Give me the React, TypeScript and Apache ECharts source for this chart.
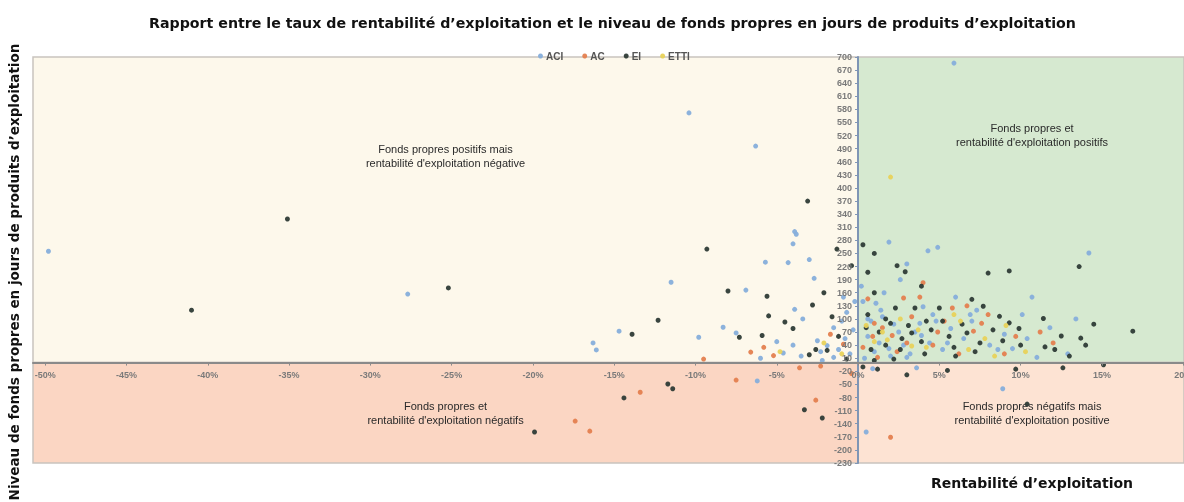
import React, { useEffect, useRef } from "react";
import * as echarts from "echarts";

const seriesNames = ["ACI", "AC", "EI", "ETTI"];
const seriesColors = ["#86aedb", "#e4804f", "#2e3b36", "#e8d25a"];

const aciPoints = [
  [-49.8, 255], [-27.7, 157], [-10.4, 572], [-6.3, 496], [-11.5, 184], [-14.7, 72], [-16.3, 45], [-16.1, 29],
  [-6.9, 166], [-5.7, 230], [-4.3, 229], [-3.9, 300], [-3.8, 294], [-4.0, 272], [-3.0, 236], [-2.7, 193],
  [-3.9, 122], [-3.4, 100], [-7.5, 68], [-8.3, 81], [-9.8, 58], [-5.0, 48], [-2.5, 50], [-1.9, 39],
  [-1.2, 30], [-0.8, 55], [-0.5, 20], [-1.5, 12], [-2.2, 5], [-3.5, 15], [-6.0, 10], [-4.6, 22],
  [0.3, 140], [1.9, 276], [4.9, 264], [4.3, 256], [3.0, 226], [1.1, 136], [5.9, 686], [14.2, 251],
  [10.7, 150], [0.8, 95], [1.5, 105], [2.2, 88], [3.5, 70], [4.6, 110], [0.6, 60], [1.3, 45],
  [2.8, 40], [3.8, 90], [5.7, 78], [6.5, 55], [7.3, 120], [8.1, 40], [9.5, 32], [11.8, 80],
  [12.9, 20], [2.0, 15], [0.4, 10], [1.0, 25], [3.2, 20], [4.0, 128], [6.0, 150], [8.9, -60],
  [0.5, -159], [-6.2, -42], [0.9, -14], [3.6, -12], [1.6, 160], [0.2, 175], [2.6, 190], [4.4, 45],
  [5.2, 30], [7.0, 95], [9.0, 65], [10.1, 110], [13.4, 100], [-0.3, 75], [-1.0, 95], [-0.7, 115],
  [-0.2, 140], [0.6, 100], [1.4, 120], [2.5, 70], [3.9, 62], [4.8, 95], [5.5, 45], [6.9, 110],
  [8.6, 30], [10.4, 55], [11.0, 12], [1.9, 32], [3.0, 12], [-1.5, 80], [-2.3, 25], [-4.0, 40],
  [-0.9, 150]
];

const acPoints = [
  [-17.4, -134], [-16.5, -157], [-13.4, -68], [-7.5, -40], [-2.6, -86], [2.0, -171], [-6.6, 24], [-5.8, 35],
  [-3.6, -12], [-2.3, -8], [-0.4, -25], [4.0, 183], [2.8, 148], [0.6, 146], [1.5, 80], [0.9, 60],
  [3.3, 105], [5.3, 95], [7.1, 72], [9.7, 60], [11.2, 70], [4.6, 40], [2.4, 25], [1.2, 12],
  [8.0, 110], [0.3, 35], [-0.9, 42], [-1.7, 65], [-5.2, 16], [-9.5, 8], [6.2, 20], [12.0, 45],
  [6.7, 130], [3.8, 150], [1.0, 90], [2.1, 62], [4.9, 70], [5.8, 125], [7.6, 90], [9.0, 20],
  [3.0, 45]
];

const eiPoints = [
  [-41.0, 120], [-35.1, 329], [-25.2, 171], [-9.3, 260], [-3.1, 370], [-12.3, 97], [-13.9, 65], [-5.5, 107],
  [-4.5, 93], [-5.6, 152], [-8.0, 164], [-2.8, 132], [-4.0, 78], [-5.9, 62], [-7.3, 58], [-1.3, 260],
  [-0.4, 222], [-2.1, 160], [-1.2, 60], [-1.9, 28], [-3.0, 18], [-0.7, 8], [0.3, 270], [1.0, 250],
  [0.6, 207], [2.4, 222], [2.9, 208], [3.9, 175], [1.0, 160], [3.5, 125], [5.0, 125], [5.2, 95],
  [0.6, 110], [2.0, 90], [1.3, 70], [2.7, 55], [3.9, 48], [4.5, 75], [5.6, 60], [6.4, 88],
  [7.5, 45], [8.3, 75], [9.3, 91], [11.4, 101], [12.5, 61], [13.7, 56], [14.5, 88], [16.9, 72],
  [11.5, 36], [9.3, 210], [8.0, 205], [13.6, 220], [7.0, 145], [8.7, 106], [7.7, 129], [10.0, 40],
  [2.2, 8], [4.1, 20], [6.0, 15], [0.8, 30], [1.7, 40], [3.1, 85], [-19.9, -159], [-14.4, -81],
  [-11.7, -49], [-11.4, -60], [-3.3, -108], [-2.2, -127], [10.4, -95], [0.3, -10], [1.2, -15], [3.0, -28],
  [5.5, -18], [9.7, -15], [12.6, -12], [15.1, -5], [0.5, 80], [1.7, 100], [2.3, 125], [3.3, 68],
  [4.2, 95], [5.9, 35], [6.7, 68], [7.2, 25], [8.9, 50], [9.9, 78], [12.1, 30], [13.0, 15],
  [14.0, 40], [1.0, 5], [2.6, 30], [-2.6, 30], [-1.6, 105]
];

const ettiPoints = [
  [2.0, 425], [-4.8, 25], [-2.1, 45], [1.8, 52], [2.6, 100], [3.3, 38], [5.9, 110], [7.8, 55],
  [4.2, 35], [1.0, 48], [6.8, 30], [10.3, 25], [9.1, 85], [0.5, 85], [-1.0, 20], [1.5, 70],
  [3.7, 75], [6.3, 95], [8.4, 15]
];

const xMin = -50.75;
const xMax = 20.05;
const yMin = -230;
const yMax = 700;
const yStep = 30;

const quadrantTexts = [
  "Fonds propres positifs mais\nrentabilité d'exploitation négative",
  "Fonds propres et\nrentabilité d'exploitation positifs",
  "Fonds propres et\nrentabilité d'exploitation négatifs",
  "Fonds propres négatifs mais\nrentabilité d'exploitation positive"
];

const titleText =
  "Rapport entre le taux de rentabilité d’exploitation et le niveau de fonds propres en jours de produits d’exploitation";
const yTitle = "Niveau de fonds propres en jours de produits d’exploitation";
const xTitle = "Rentabilité d’exploitation";

const W = 1184;
const H = 502;
const gridLeft = 33;
const gridRight = 0;
const gridTop = 57;
const gridBottom = 39;

export default function App() {
  const ref = useRef<HTMLDivElement>(null);
  useEffect(() => {
    const chart = echarts.init(ref.current!, null, { renderer: "svg" });
    const allPoints = [aciPoints, acPoints, eiPoints, ettiPoints];
    const gridW = W - gridLeft - gridRight;
    const gridH = H - gridTop - gridBottom;
    // place the axes on the zero of the other axis
    const xAxisOffset = -((0 - yMin) / (yMax - yMin)) * gridH;
    const yAxisOffset = -((0 - xMin) / (xMax - xMin)) * gridW;
    const quadLabel = (text: string, pos: string, dist: number, dx: number) => ({
      show: true,
      formatter: text,
      position: pos,
      distance: dist,
      offset: [dx, 0],
      color: "#2a2a2a",
      fontSize: 11,
      lineHeight: 14,
      fontFamily: "Liberation Sans, Arial, sans-serif",
      align: "center"
    });
    const border = { borderColor: "#c9c4bf", borderWidth: 1.5 };
    chart.setOption({
      animation: false,
      title: {
        text: titleText,
        left: 144,
        top: 11,
        textStyle: { fontSize: 14.2, fontWeight: "bold", fontFamily: "DejaVu Sans, sans-serif", color: "#111" }
      },
      legend: {
        data: seriesNames,
        top: 46,
        left: 533,
        icon: "circle",
        itemWidth: 5,
        itemHeight: 5,
        itemGap: 19,
        textStyle: { fontSize: 10, fontWeight: "bold", color: "#555", fontFamily: "Liberation Sans, Arial, sans-serif", padding: [0, 0, 0, -2] }
      },
      grid: { left: gridLeft, right: gridRight, top: gridTop, bottom: gridBottom, containLabel: false, outerBoundsMode: "none" },
      xAxis: {
        type: "value",
        min: xMin,
        max: xMax,
        splitNumber: 14,
        position: "bottom",
        offset: xAxisOffset,
        z: 5,
        splitLine: { show: false },
        axisLine: { onZero: false, lineStyle: { color: "#8a8a8a", width: 2 } },
        axisTick: { show: true, length: 3, lineStyle: { color: "#8a8a8a" } },
        axisLabel: {
          showMinLabel: false,
          showMaxLabel: false,
          formatter: (v: number) => `${v}%`,
          color: "#7a7a7a",
          fontSize: 9,
          fontWeight: "bold",
          fontFamily: "Liberation Sans, Arial, sans-serif",
          margin: 8
        }
      },
      yAxis: {
        type: "value",
        min: yMin,
        max: yMax,
        interval: yStep,
        position: "left",
        offset: yAxisOffset,
        z: 5,
        splitLine: { show: false },
        axisLine: { onZero: false, lineStyle: { color: "#7f95b5", width: 2 } },
        axisTick: { show: true, length: 3, lineStyle: { color: "#7f95b5" } },
        axisLabel: {
          color: "#7a7a7a",
          fontSize: 9,
          fontWeight: "bold",
          fontFamily: "Liberation Sans, Arial, sans-serif",
          margin: 6
        }
      },
      graphic: [
        {
          type: "text",
          x: 14,
          y: 272,
          rotation: Math.PI / 2,
          style: {
            text: yTitle,
            fontSize: 13.5,
            fontWeight: "bold",
            fontFamily: "DejaVu Sans, sans-serif",
            fill: "#111",
            align: "center",
            verticalAlign: "middle"
          }
        },
        {
          type: "text",
          x: 1032,
          y: 483,
          style: {
            text: xTitle,
            fontSize: 14,
            fontWeight: "bold",
            fontFamily: "DejaVu Sans, sans-serif",
            fill: "#111",
            align: "center",
            verticalAlign: "middle"
          }
        }
      ],
      series: [
        {
          name: "bg",
          type: "scatter",
          data: [],
          silent: true,
          markArea: {
            silent: true,
            data: [
              [
                { xAxis: xMin, yAxis: yMax, itemStyle: { color: "#fdf8eb", ...border }, label: quadLabel(quadrantTexts[0], "insideTop", 86, 0) },
                { xAxis: 0, yAxis: 0 }
              ],
              [
                { xAxis: 0, yAxis: yMax, itemStyle: { color: "#d6e9d0", ...border }, label: quadLabel(quadrantTexts[1], "insideTop", 65, 11) },
                { xAxis: xMax, yAxis: 0 }
              ],
              [
                { xAxis: xMin, yAxis: 0, itemStyle: { color: "#fbd6c3", ...border }, label: quadLabel(quadrantTexts[2], "inside", 0, 0) },
                { xAxis: 0, yAxis: yMin }
              ],
              [
                { xAxis: 0, yAxis: 0, itemStyle: { color: "#fde3d3", ...border }, label: quadLabel(quadrantTexts[3], "inside", 0, 11) },
                { xAxis: xMax, yAxis: yMin }
              ]
            ]
          }
        },
        ...seriesNames.map((name, i) => ({
          name,
          type: "scatter",
          data: allPoints[i],
          symbolSize: 5,
          itemStyle: { color: seriesColors[i], opacity: 0.95 }
        }))
      ]
    });
    return () => chart.dispose();
  }, []);
  return <div ref={ref} style={{ position: "fixed", left: 0, top: 0, width: W, height: H }} />;
}
